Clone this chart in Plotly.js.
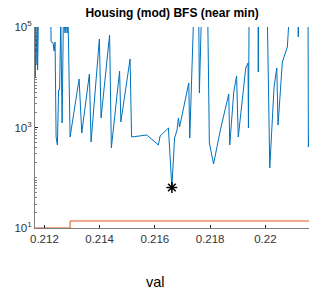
<!DOCTYPE html>
<html>
<head>
<meta charset="utf-8">
<script src="https://cdn.plot.ly/plotly-3.0.1.min.js"></script>
<style>html,body{margin:0;padding:0;background:#fff;}#chart{width:309px;height:289px;}</style>
</head>
<body>
<div id="chart"></div>
<script>
// Blue series: objective value vs val (values above 1e5 are clipped)
var valX = [0.211663, 0.211670, 0.211681, 0.211696, 0.211710, 0.211725, 0.211739, 0.211754, 0.211768, 0.211783,
  0.212232, 0.212243, 0.212315, 0.212351, 0.212387, 0.212424, 0.212471, 0.212514, 0.212550, 0.212594,
  0.212641, 0.212688, 0.212749, 0.212786, 0.212822, 0.212858, 0.212930, 0.213256, 0.213354, 0.213629,
  0.213690, 0.213990, 0.214052, 0.214360, 0.214425, 0.214722, 0.214769, 0.215102, 0.215157, 0.215707,
  0.216127, 0.216190, 0.216490, 0.216615, 0.216713, 0.216804, 0.216851, 0.216894, 0.217046, 0.217166,
  0.217227, 0.217263, 0.217401, 0.217589, 0.217611, 0.217683, 0.217915, 0.217973, 0.218125, 0.218371,
  0.218552, 0.218675, 0.218711, 0.218856, 0.218958, 0.219019, 0.219290, 0.219373, 0.219388, 0.219410,
  0.219736, 0.219743, 0.219754, 0.220072, 0.220159, 0.220315, 0.220413, 0.220460, 0.220615, 0.220797,
  0.220858, 0.221184, 0.221191, 0.221202, 0.221546, 0.221557, 0.221618];
var valY = [150000, 10100, 150000, 17500, 150000, 27700, 150000, 13900, 150000, 150000,
  150000, 50900, 48100, 33300, 50300, 647, 449, 5570, 5570, 150000,
  1230, 150000, 76000, 150000, 76000, 150000, 647, 9230, 778, 11600,
  515, 57700, 1550, 69300, 391, 13300, 1290, 23100, 647, 709,
  449, 678, 977, 64, 618, 891, 1550, 1023, 2560, 5080,
  7690, 618, 150000, 150000, 4860, 150000, 150000, 492, 188, 891,
  2560, 4640, 449, 5080, 10600, 647, 15300, 19200, 977, 150000,
  150000, 12700, 150000, 150000, 156, 6400, 15300, 1122, 20100, 40000,
  150000, 150000, 63200, 150000, 150000, 409, 2000];

// Orange series (step)
var stepX = [0.2115, 0.21293, 0.2217];
var stepY = [10, 13.8, 13.8];

// Near-min marker
var minX = [0.216615];
var minY = [64];

var xTicks = [0.212, 0.214, 0.216, 0.218, 0.22];
var xTickText = ['0.212', '0.214', '0.216', '0.218', '0.22'];
var yTicks = [10, 1000, 100000];
var yTickText = ['10<sup>1</sup>', '10<sup>3</sup>', '10<sup>5</sup>'];

var traces = [
  {x: valX, y: valY, type: 'scatter', mode: 'lines', line: {color: '#0072BD', width: 1}, hoverinfo: 'skip'},
  {x: stepX, y: stepY, type: 'scatter', mode: 'lines', line: {color: '#D95319', width: 1, shape: 'hv'}, hoverinfo: 'skip'},
  {x: minX, y: minY, type: 'scatter', mode: 'markers', marker: {symbol: 'asterisk-open', size: 9, color: '#000', line: {color: '#000', width: 1.5}}, cliponaxis: false, hoverinfo: 'skip'}
];

var layout = {
  width: 309, height: 289,
  margin: {l: 35, r: 0, t: 27, b: 61, pad: 0},
  paper_bgcolor: '#fff', plot_bgcolor: '#fff',
  showlegend: false,
  font: {family: 'Liberation Sans, Arial, sans-serif', size: 11.5, color: '#262626'},
  title: {text: '<b>Housing (mod) BFS (near min)</b>', font: {size: 12, color: '#000'}, x: 0.557, xanchor: 'center', y: 0.955, yanchor: 'middle'},
  xaxis: {
    range: [0.21166, 0.22158], tickvals: xTicks, ticktext: xTickText,
    ticks: 'inside', ticklen: 3, tickcolor: '#262626', showgrid: false, zeroline: false,
    showline: true, linecolor: '#7f7f7f', linewidth: 1, mirror: false,
    tickfont: {size: 11.5, color: '#333333'}
  },
  yaxis: {
    type: 'log', range: [1, 5], tickvals: yTicks, ticktext: yTickText,
    ticks: 'inside', ticklen: 3, tickcolor: '#262626', showgrid: false, zeroline: false,
    showline: true, linecolor: '#7f7f7f', linewidth: 1, mirror: false,
    tickfont: {size: 11.5, color: '#333333'},
    minor: {ticks: 'inside', ticklen: 2, tickcolor: '#7f7f7f', dtick: 'D1', showgrid: false}
  },
  annotations: [
    {text: 'val', xref: 'paper', yref: 'paper', x: 0.438, y: -0.27, xanchor: 'center', yanchor: 'middle', showarrow: false, font: {size: 14.5, color: '#000'}}
  ]
};

Plotly.newPlot('chart', traces, layout, {staticPlot: true, displayModeBar: false});
</script>
</body>
</html>
